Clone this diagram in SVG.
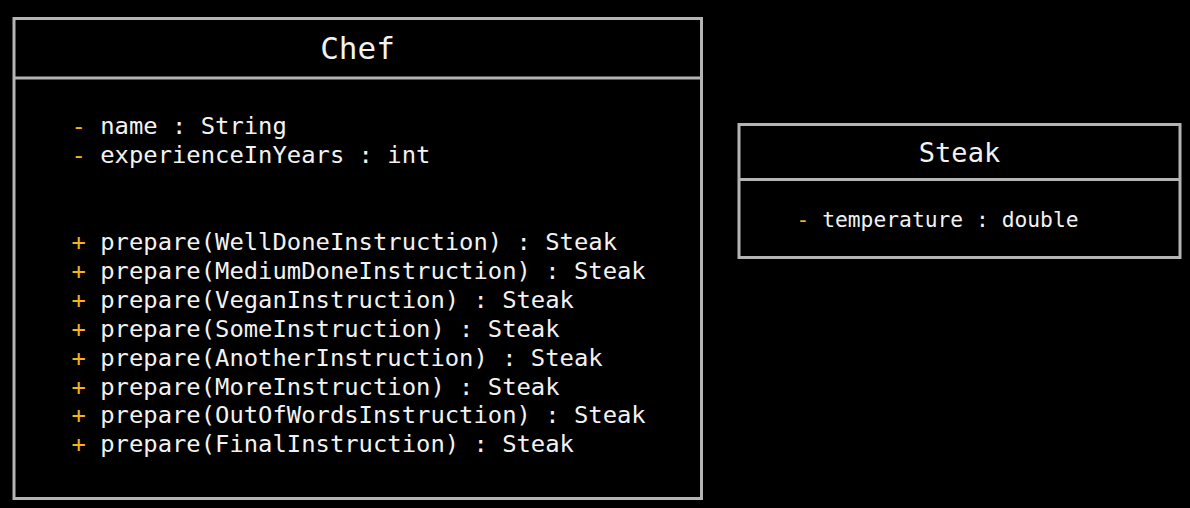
<svg xmlns="http://www.w3.org/2000/svg" width="1190" height="508" viewBox="0 0 1190 508">
<style>
.box{fill:#000;stroke:#b4b4b4;stroke-width:3}
.div{stroke:#b4b4b4;stroke-width:3}
.t{font-family:"DejaVu Sans Mono","Liberation Mono",monospace;fill:#f2f2f2}
.m{font-size:23.85px;white-space:pre}
.s{font-size:21.3px;white-space:pre}
.o{fill:#f6b31e}
.title{text-anchor:middle}
</style>
<rect x="0" y="0" width="1190" height="508" fill="#000"/>
<g id="Chef">
<rect class="box" x="14" y="18.5" width="687.5" height="480"/>
<line class="div" x1="14" y1="78" x2="701.5" y2="78"/>
<text class="t title" x="357.5" y="59" font-size="31">Chef</text>
<text class="t m" x="71.5" y="134"><tspan class="o">-</tspan> name : String</text>
<text class="t m" x="71.5" y="163"><tspan class="o">-</tspan> experienceInYears : int</text>
<text class="t m" x="71.5" y="250"><tspan class="o">+</tspan> prepare(WellDoneInstruction) : Steak</text>
<text class="t m" x="71.5" y="278.9"><tspan class="o">+</tspan> prepare(MediumDoneInstruction) : Steak</text>
<text class="t m" x="71.5" y="307.8"><tspan class="o">+</tspan> prepare(VeganInstruction) : Steak</text>
<text class="t m" x="71.5" y="336.7"><tspan class="o">+</tspan> prepare(SomeInstruction) : Steak</text>
<text class="t m" x="71.5" y="365.6"><tspan class="o">+</tspan> prepare(AnotherInstruction) : Steak</text>
<text class="t m" x="71.5" y="394.5"><tspan class="o">+</tspan> prepare(MoreInstruction) : Steak</text>
<text class="t m" x="71.5" y="423.4"><tspan class="o">+</tspan> prepare(OutOfWordsInstruction) : Steak</text>
<text class="t m" x="71.5" y="452.3"><tspan class="o">+</tspan> prepare(FinalInstruction) : Steak</text>
</g>
<g id="Steak">
<rect class="box" x="739" y="124.5" width="441" height="133"/>
<line class="div" x1="739" y1="179.5" x2="1180" y2="179.5"/>
<text class="t title" x="959.5" y="161.5" font-size="27">Steak</text>
<text class="t s" x="796.5" y="226.5"><tspan class="o">-</tspan> temperature : double</text>
</g>
<g id="connectors"/>
</svg>
